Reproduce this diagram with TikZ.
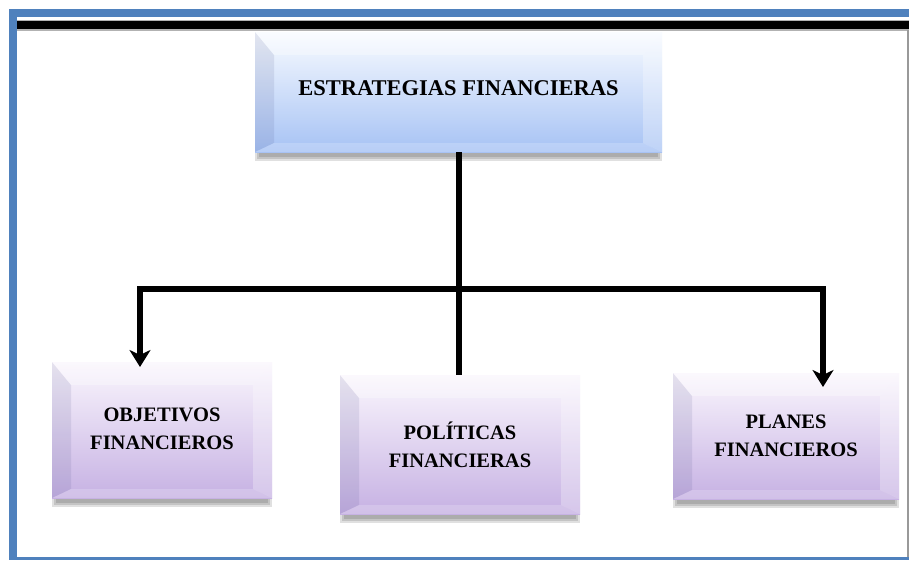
\documentclass[tikz,border=0pt]{standalone}
\usepackage{fontspec}
\setmainfont{Liberation Serif}
\usetikzlibrary{arrows.meta,backgrounds,calc}
\definecolor{frameblue}{HTML}{4F81BD}
\definecolor{topA}{HTML}{F8FBFF}
\definecolor{topB}{HTML}{A6C2F4}
\definecolor{lavA}{HTML}{FAF6FD}
\definecolor{lavB}{HTML}{C6B1E3}
\definecolor{bevdark}{HTML}{3A3F7A}
\tikzset{
  bevelbox/.style 2 args={rectangle, inner sep=0pt, top color=#1, bottom color=#2,
    path picture={
      \fill[bevdark, opacity=0.11] (path picture bounding box.north west)
        -- ([xshift=19pt,yshift=-23pt]path picture bounding box.north west)
        -- ([xshift=19pt,yshift=9pt]path picture bounding box.south west)
        -- (path picture bounding box.south west) -- cycle;
      \fill[white, opacity=0.28] (path picture bounding box.north east)
        -- ([xshift=-19pt,yshift=-23pt]path picture bounding box.north east)
        -- ([xshift=-19pt,yshift=9pt]path picture bounding box.south east)
        -- (path picture bounding box.south east) -- cycle;
      \fill[white, opacity=0.3] (path picture bounding box.north west)
        -- ([xshift=19pt,yshift=-23pt]path picture bounding box.north west)
        -- ([xshift=-19pt,yshift=-23pt]path picture bounding box.north east)
        -- (path picture bounding box.north east) -- cycle;
      \fill[white, opacity=0.2] (path picture bounding box.south west)
        -- ([xshift=19pt,yshift=9pt]path picture bounding box.south west)
        -- ([xshift=-19pt,yshift=9pt]path picture bounding box.south east)
        -- (path picture bounding box.south east) -- cycle;
    }},
  toptext/.style={font=\fontsize{22.5}{24}\selectfont\bfseries, text=black},
  lowtext/.style={font=\fontsize{20.5}{28}\selectfont\bfseries, text=black, align=center},
  conn/.style={line width=6pt, draw=black, line join=miter},
  arrowconn/.style={conn, -{Stealth[length=17pt,width=21pt,inset=5pt]}}
}
\begin{document}
\begin{tikzpicture}[x=1pt,y=-1pt]
\useasboundingbox (0,0) rectangle (909,560);

% boxes
\node[bevelbox={topA}{topB}, minimum width=407pt, minimum height=120pt, toptext]
  (top) at (458.5,92) {\raisebox{7pt}{ESTRATEGIAS FINANCIERAS}};
\node[bevelbox={lavA}{lavB}, minimum width=220pt, minimum height=136pt, lowtext]
  (left) at (162,430) {\raisebox{6pt}{\begin{tabular}{@{}c@{}}OBJETIVOS\\FINANCIEROS\end{tabular}}};
\node[bevelbox={lavA}{lavB}, minimum width=240pt, minimum height=139pt, lowtext]
  (mid) at (460,444.5) {POLÍTICAS\\FINANCIERAS};
\node[bevelbox={lavA}{lavB}, minimum width=226pt, minimum height=126pt, lowtext]
  (right) at (786,436) {PLANES\\FINANCIEROS};

% frame and shadows behind the boxes
\begin{scope}[on background layer]
\fill[white] (0,0) rectangle (909,560);
\fill[frameblue] (9,9) rectangle (909,17);
\fill[frameblue] (9,9) rectangle (17,560);
\fill[frameblue] (9,557) rectangle (909,560);
\fill[gray!60] (17,19.5) rectangle (909,30.5);
\fill[black] (17,21) rectangle (909,29);
\draw[gray!80, line width=1.2pt] (908,30) -- (908,557);
\foreach \b in {top,left,mid,right}{
  \foreach \k in {0,2,4}{
    \fill[black, opacity=0.12] ([xshift=\k pt, yshift=20pt]\b.south west)
      rectangle ([xshift=-\k pt, yshift={-(9-\k)*1pt}]\b.south east);
  }
}
\end{scope}

% connectors
\coordinate (j) at (459,289);
\coordinate (la) at (140,367);
\coordinate (ra) at (823,387);
\draw[conn] (top.south) -- (top.south |- mid.north);
\draw[arrowconn] (j) -| (la);
\draw[arrowconn] (j) -| (ra);
\end{tikzpicture}
\end{document}
